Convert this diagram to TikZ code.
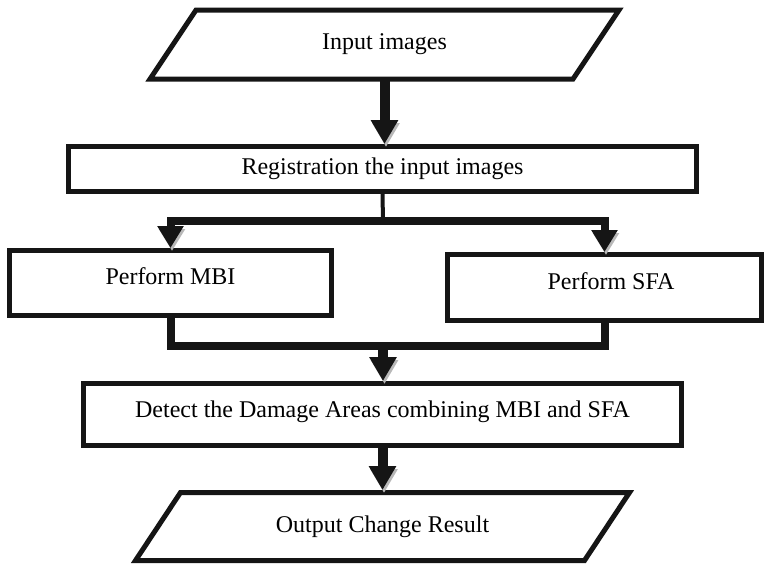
\documentclass[tikz,border=0pt]{standalone}
\usepackage{fontspec}
\setmainfont{Liberation Serif}
\usetikzlibrary{arrows.meta}
\definecolor{ink}{HTML}{151515}
\tikzset{
  label font/.style={font=\fontsize{24}{28}\selectfont},
  box/.style={draw=ink, line width=5pt, rectangle, inner sep=0pt, label font},
  iotext/.style={rectangle, inner sep=0pt, outer sep=0pt, label font},
  ioline/.style={draw=ink, line width=5pt, line join=miter},
  shade/.style={preaction={draw=black!28, transform canvas={xshift=1.5pt,yshift=-3pt}}},
  flow/.style={draw=ink, line width=10pt, -{Triangle[width=26pt,length=24pt]}, shade},
  branch/.style={draw=ink, line width=8pt, line join=miter, -{Triangle[width=25pt,length=22pt]}, shade},
  bar/.style={draw=ink, line width=8pt, line join=miter, line cap=rect, shade},
  feed/.style={draw=ink, line width=4pt},
}
\begin{document}
\begin{tikzpicture}[x=1pt,y=-1pt]
\useasboundingbox (0,0) rectangle (764,566);
% input / output parallelograms: a text node with its slanted outline
\node[iotext, minimum width=423pt, minimum height=69pt] (input) at (384.5,44.5) {Input images};
\draw[ioline] ([xshift=23pt]input.north west) -- ([xshift=23pt]input.north east)
  -- ([xshift=-23pt]input.south east) -- ([xshift=-23pt]input.south west) -- cycle;
\node[iotext, minimum width=449pt, minimum height=68pt] (output) at (382.5,526.5) {Output Change Result};
\draw[ioline] ([xshift=22.5pt]output.north west) -- ([xshift=22.5pt]output.north east)
  -- ([xshift=-22.5pt]output.south east) -- ([xshift=-22.5pt]output.south west) -- cycle;
% process boxes
\node[box, minimum width=628pt, minimum height=45pt] (reg) at (382.5,169) {Registration the input images};
\node[box, minimum width=322pt, minimum height=65pt, text depth=14pt] (mbi) at (170.5,283) {Perform MBI};
\node[box, minimum width=314pt, minimum height=66pt, text depth=13pt] (sfa) at (604.5,287.5) {\hspace{13pt}Perform SFA};
\node[box, minimum width=598pt, minimum height=62pt, text depth=10pt] (detect) at (382.5,414.5) {Detect the Damage Areas combining MBI and SFA};
% junction points
\coordinate (split) at (383,221);
\coordinate (merge) at (383,345.5);
% connectors
\draw[flow] (input.south) -- (input.south |- reg.north);
\draw[feed] (reg.south) -- (split);
\draw[branch] (split) -| (mbi.north);
\draw[branch] (split) -| (sfa.north);
\draw[bar] (mbi.south) |- (merge) -| (sfa.south);
\draw[flow] (merge) -- (merge |- detect.north);
\draw[flow, shorten >=2.5pt] (detect.south) -- (detect.south |- output.north);
\end{tikzpicture}
\end{document}
